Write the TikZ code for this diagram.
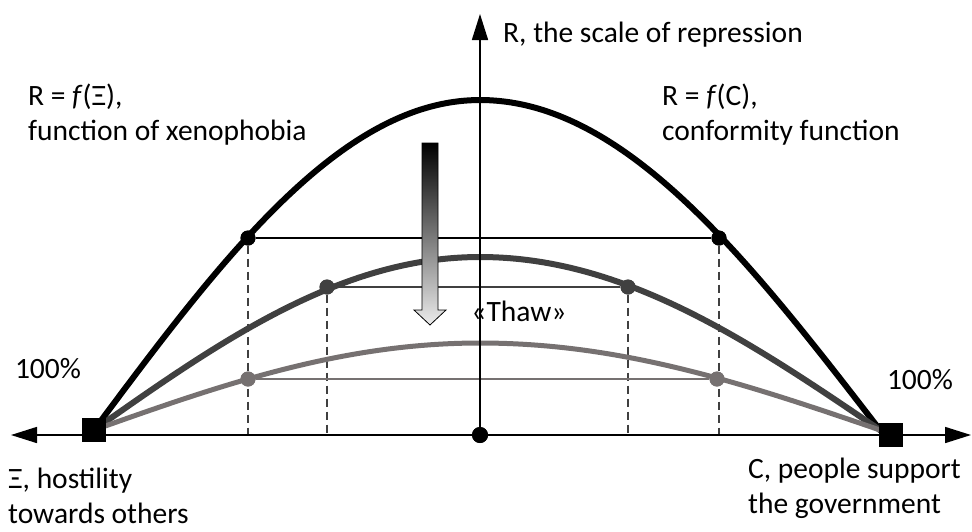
\documentclass[tikz,border=0pt]{standalone}
\usepackage{fontspec}
\setmainfont{Carlito}
\usetikzlibrary{arrows.meta}
\definecolor{curvedark}{RGB}{64,64,64}
\definecolor{curvelight}{RGB}{118,113,113}

\begin{document}
\begin{tikzpicture}[x=1pt, y=-1pt,
  every node/.style={font=\fontsize{29.5}{35}\selectfont, inner sep=0pt},
  declare function={hump(\x,\t,\a)=\t+\a*(1-cos((\x-480)/(\x<480?386:400)*90));},
  axisline/.style={line width=1.6pt},
  axtip/.tip={Triangle[length=26pt, width=16pt]},
  curve/.style={line width=6pt},
  level/.style={line width=2pt},
  drop/.style={line width=1.3pt, curvedark, dash pattern=on 8pt off 5pt},
  dot/.style={circle, minimum size=15pt},
  corner/.style={rectangle, fill=black, minimum size=24pt}]
  \useasboundingbox (0,0) rectangle (972,531);

  % ends of the axes and the two 100% corners
  \coordinate (xl) at (11,435);
  \coordinate (xr) at (971,435);
  \coordinate (yt) at (480,14);
  \node[dot, fill=black, minimum size=16pt] (O) at (480,435) {};
  \node[corner] (sqL) at (94,430) {};
  \node[corner] (sqR) at (891,435) {};

  % points where the levels meet the curves
  \node[dot, fill=black] (b1) at (248,238) {};
  \node[dot, fill=black] (b2) at (719,238) {};
  \node[dot, fill=curvedark] (d1) at (327,287) {};
  \node[dot, fill=curvedark] (d2) at (628,287) {};
  \node[dot, fill=curvelight] (g1) at (248,379) {};
  \node[dot, fill=curvelight] (g2) at (717,379) {};

  % drop lines to the axis
  \foreach \p in {b1,d1,d2,b2}
    \draw[drop] (\p) -- (\p |- O);

  % levels
  \draw[level] (b1) -- (b2);
  \draw[level, line width=1.5pt, curvedark] (d1) -- (d2);
  \draw[level, curvelight] (g1) -- (g2);

  % the three curves
  \draw[curve, black] plot[domain=94:880, samples=150] (\x,{hump(\x,100,330)}) -- (sqR.center);
  \draw[curve, curvedark] plot[domain=94:880, samples=150] (\x,{hump(\x,257,173)}) -- (sqR.center);
  \draw[curve, curvelight, line width=5pt] plot[domain=94:880, samples=150] (\x,{hump(\x,343,87)}) -- (sqR.center);

  % axes
  \draw[axisline, axtip-axtip] (xl) -- (xr);
  \draw[axisline, -axtip] (O) -- (yt);

  % redraw points on top
  \node[dot, fill=black, minimum size=16pt] at (O) {};
  \node[corner] at (sqL) {};
  \node[corner] at (sqR) {};
  \node[dot, fill=black] at (b1) {};
  \node[dot, fill=black] at (b2) {};
  \node[dot, fill=curvedark] at (d1) {};
  \node[dot, fill=curvedark] at (d2) {};
  \node[dot, fill=curvelight] at (g1) {};
  \node[dot, fill=curvelight] at (g2) {};

  % thaw arrow
  \shade[top color=black, bottom color=gray!15, draw=black, line width=0.8pt]
    (422,143) -- (438,143) -- (438,310) -- (446,310) -- (430,325)
    -- (414,310) -- (422,310) -- cycle;
  \node (thaw) at (519,311) {«Thaw»};

  % labels
  \node[anchor=base west] (ylab) at (503,42) {R, the scale of repression};
  \node[anchor=north west, align=left] (fxi) at (28,84) {R = \textit{f}(Ξ),\\function of xenophobia};
  \node[anchor=north west, align=left] (fc) at (662,84) {R = \textit{f}(C),\\conformity function};
  \node (pl) at (48,369) {100\%};
  \node (pr) at (920,380) {100\%};
  \node[anchor=north west, align=left] (xilab) at (8,468) {Ξ, hostility\\towards others};
  \node[anchor=north west, align=left] (clab) at (748,458) {C, people support\\the government};
\end{tikzpicture}
\end{document}
